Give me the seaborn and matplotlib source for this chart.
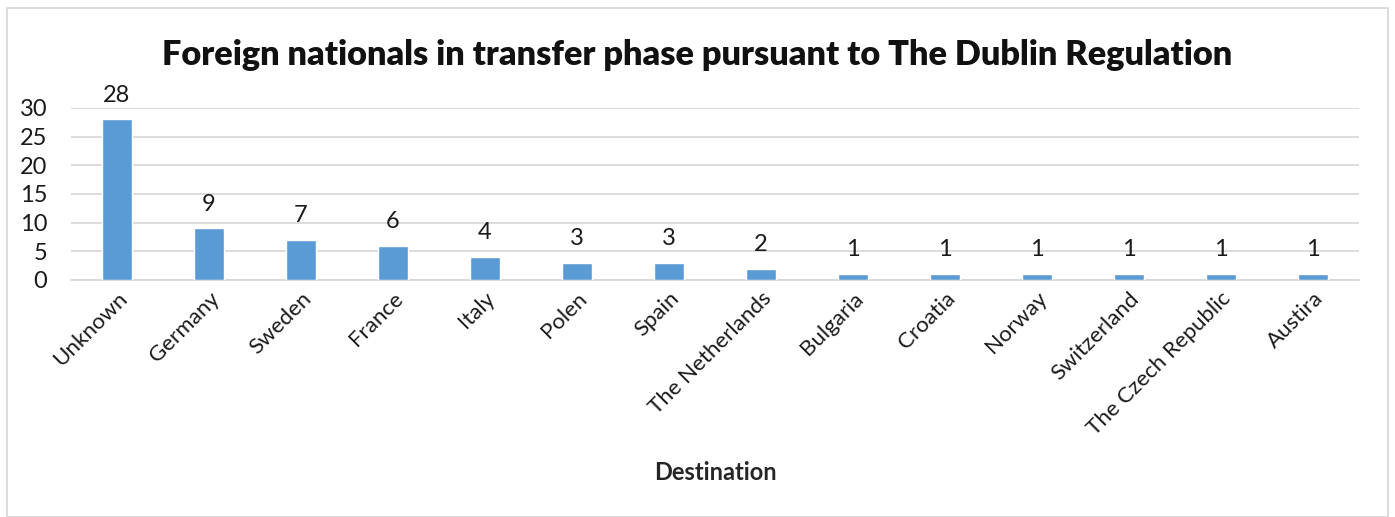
import numpy as np
import pandas as pd
import seaborn as sns
import matplotlib.pyplot as plt
from matplotlib.patches import Rectangle

destinations = ["Unknown", "Germany", "Sweden", "France", "Italy", "Polen", "Spain",
                "The Netherlands", "Bulgaria", "Croatia", "Norway", "Switzerland",
                "The Czech Republic", "Austira"]
counts = [28, 9, 7, 6, 4, 3, 3, 2, 1, 1, 1, 1, 1, 1]

df = pd.DataFrame({"Destination": destinations, "Count": counts})

sns.set_style("white")
plt.rcParams['font.family'] = ['Lato', 'DejaVu Sans']

W, H = 1395, 517
fig = plt.figure(figsize=(W / 100, H / 100), dpi=100)
ax = fig.add_axes([71 / W, 1 - 280 / H, (1359 - 71) / W, (280 - 108) / H])

sns.barplot(data=df, x="Destination", y="Count", color="#5B9BD5", width=0.32,
            saturation=1, ax=ax, zorder=3)

ax.set_ylim(0, 30)
ax.set_xlim(-0.5, len(destinations) - 0.5)
ax.set_yticks(range(0, 31, 5))
ax.yaxis.grid(True, color="#D9D9D9", linewidth=1.3, zorder=0)
ax.set_axisbelow(True)
for s in ["top", "right", "left"]:
    ax.spines[s].set_visible(False)
ax.spines["bottom"].set_color("#D9D9D9")
ax.spines["bottom"].set_linewidth(1.3)
ax.tick_params(axis="y", length=0, labelsize=17, pad=17, labelcolor="#1a1a1a")
ax.tick_params(axis="x", length=0, labelsize=16, pad=6, labelcolor="#1a1a1a")
plt.setp(ax.get_xticklabels(), rotation=45, ha="right", rotation_mode="anchor")

for i, v in enumerate(counts):
    ax.annotate(str(v), (i, v), xytext=(0, 10), textcoords="offset points",
                ha="center", va="bottom", fontsize=17, color="#1a1a1a")

ax.set_ylabel("")
ax.set_xlabel("Destination", fontsize=17, fontweight="bold", labelpad=16)
fig.text(0.5, 1 - 55 / H, "Foreign nationals in transfer phase pursuant to The Dublin Regulation",
         ha="center", va="center", fontsize=24.7, fontweight="heavy", color="#111111")

fig.patches.append(Rectangle((7 / W, 0), (1388 - 7) / W, 1 - 8 / H, transform=fig.transFigure,
                             fill=False, edgecolor="#D9D9D9", linewidth=1.3))

fig.savefig("out.png", dpi=100)
